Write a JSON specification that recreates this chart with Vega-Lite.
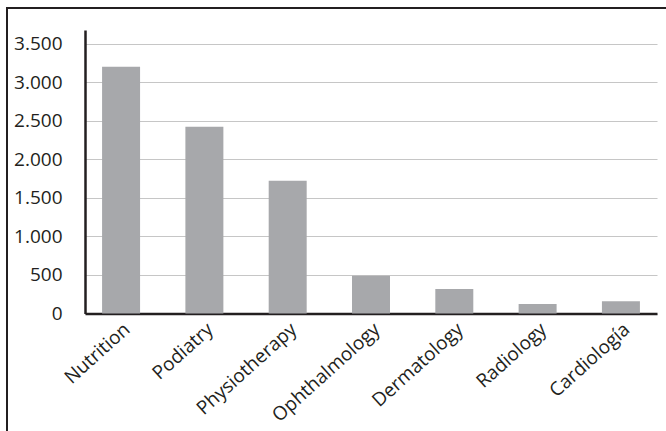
{
  "$schema": "https://vega.github.io/schema/vega-lite/v6.json",
  "width": 659,
  "height": 423,
  "padding": {"left": 7, "top": 8, "right": 0, "bottom": 0},
  "autosize": {"type": "none"},
  "background": "white",
  "data": {
    "values": [
      {"specialty": "Nutrition", "visits": 3200},
      {"specialty": "Podiatry", "visits": 2420},
      {"specialty": "Physiotherapy", "visits": 1720},
      {"specialty": "Ophthalmology", "visits": 490},
      {"specialty": "Dermatology", "visits": 318},
      {"specialty": "Radiology", "visits": 122},
      {"specialty": "Cardiología", "visits": 160}
    ]
  },
  "mark": {"type": "bar", "color": "#a7a8ab"},
  "encoding": {
    "x": {
      "field": "specialty",
      "type": "nominal",
      "sort": null,
      "scale": {"range": [78, 650], "paddingInner": 0.544, "paddingOuter": 0.205},
      "axis": {
        "title": null,
        "offset": -117.5,
        "labelAngle": -42,
        "labelPadding": 6,
        "ticks": false,
        "domainColor": "#231f20",
        "domainWidth": 2.5,
        "labelFont": "Open Sans",
        "labelFontSize": 19,
        "labelColor": "#231f20",
        "grid": false
      }
    },
    "y": {
      "field": "visits",
      "type": "quantitative",
      "scale": {"domain": [0, 3675], "range": [305.5, 22], "nice": false, "zero": true},
      "axis": {
        "title": null,
        "offset": -78,
        "values": [0, 500, 1000, 1500, 2000, 2500, 3000, 3500],
        "labelExpr": "replace(format(datum.value, ','), ',', '.')",
        "ticks": false,
        "labelPadding": 23,
        "domainColor": "#231f20",
        "domainWidth": 2.5,
        "labelFont": "Open Sans",
        "labelFontSize": 19,
        "labelColor": "#231f20",
        "grid": true,
        "gridColor": "#c6c6c6",
        "gridWidth": 1.2
      }
    }
  },
  "config": {
    "view": {"stroke": "#231f20", "strokeWidth": 2, "strokeDash": [659, 1082, 423]}
  }
}
